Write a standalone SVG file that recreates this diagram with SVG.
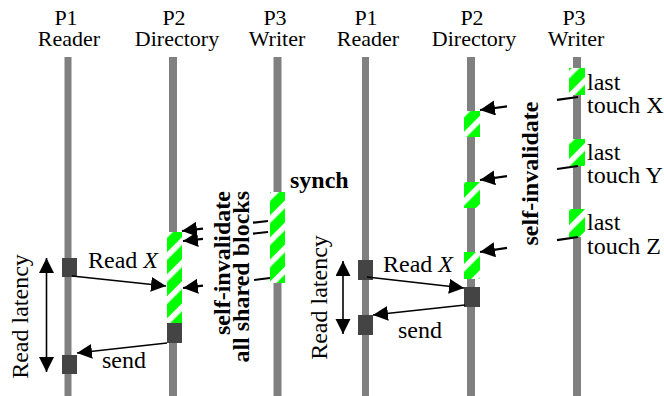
<svg xmlns="http://www.w3.org/2000/svg" width="664" height="396" viewBox="0 0 664 396">
<style>
.t{font-family:"Liberation Serif","Times New Roman","DejaVu Serif",serif;fill:#000}
.h{font-size:22px;text-anchor:middle}
.l{font-size:24px}
.b{font-size:24px;font-weight:bold}
.life{fill:#808080}
.box{fill:#444}
.hat{fill:url(#hatch)}
.c{stroke:#000;stroke-width:1.6;fill:none}
.s{stroke:#000;stroke-width:2.2;fill:none}
</style>
<defs>
<pattern id="hatch" width="15.6" height="15.6" patternUnits="userSpaceOnUse" patternTransform="rotate(45)">
<rect width="15.6" height="15.6" fill="#00ff00"/>
<rect width="5.5" height="15.6" fill="#fff"/>
</pattern>
<marker id="ah" markerUnits="userSpaceOnUse" markerWidth="16" markerHeight="16" refX="15" refY="7.5" orient="auto-start-reverse" viewBox="0 0 16 16">
<path d="M0,0 L15,7.5 L0,15 z" fill="#000"/>
</marker>
</defs>
<rect width="664" height="396" fill="#fff"/>

<g id="left-p1">
<text class="t h" x="66" y="25">P1</text>
<text class="t h" x="69" y="46">Reader</text>
<rect class="life" x="64.5" y="57" width="7" height="339"/>
<rect class="box" x="62" y="258" width="15" height="19"/>
<rect class="box" x="62" y="355" width="15" height="19"/>
</g>
<g id="left-p2">
<text class="t h" x="174" y="25">P2</text>
<text class="t h" x="177" y="46">Directory</text>
<rect class="life" x="169" y="57" width="8" height="339"/>
<rect class="hat" x="167" y="232" width="15" height="91"/>
<rect class="box" x="167" y="323" width="15" height="20"/>
</g>
<g id="left-p3">
<text class="t h" x="275" y="25">P3</text>
<text class="t h" x="277" y="46">Writer</text>
<rect class="life" x="273.5" y="57" width="8" height="339"/>
<rect class="hat" x="270" y="192" width="15" height="91"/>
</g>

<g id="right-p1">
<text class="t h" x="366" y="25">P1</text>
<text class="t h" x="368" y="46">Reader</text>
<rect class="life" x="362" y="57" width="7" height="339"/>
<rect class="box" x="358" y="260" width="15" height="20"/>
<rect class="box" x="358" y="315" width="15" height="20"/>
</g>
<g id="right-p2">
<text class="t h" x="472" y="25">P2</text>
<text class="t h" x="474" y="46">Directory</text>
<rect class="life" x="467" y="57" width="8" height="339"/>
<rect class="hat" x="464" y="111" width="16" height="26"/>
<rect class="hat" x="464" y="182" width="16" height="26"/>
<rect class="hat" x="464" y="252" width="16" height="27"/>
<rect class="box" x="464" y="287" width="16" height="20"/>
</g>
<g id="right-p3">
<text class="t h" x="574" y="25">P3</text>
<text class="t h" x="576" y="46">Writer</text>
<rect class="life" x="573" y="57" width="8" height="339"/>
<rect class="hat" x="569" y="68" width="16" height="27"/>
<rect class="hat" x="569" y="139" width="16" height="27"/>
<rect class="hat" x="569" y="209" width="16" height="28"/>
<text class="t l" x="587" y="90">last</text>
<text class="t l" x="587" y="113">touch X</text>
<text class="t l" x="587" y="160">last</text>
<text class="t l" x="587" y="183">touch Y</text>
<text class="t l" x="587" y="230">last</text>
<text class="t l" x="587" y="254">touch Z</text>
</g>

<g id="connectors">
<line class="c" x1="46.5" y1="258" x2="46.5" y2="372" marker-start="url(#ah)" marker-end="url(#ah)"/>
<line class="c" x1="72" y1="276" x2="166" y2="286" marker-end="url(#ah)"/>
<line class="c" x1="167" y1="343" x2="77" y2="353" marker-end="url(#ah)"/>
<line class="s" x1="268" y1="221" x2="253" y2="222.7"/>
<line class="s" x1="203" y1="228.6" x2="182" y2="231" marker-end="url(#ah)"/>
<line class="s" x1="268" y1="232" x2="253" y2="233.6"/>
<line class="s" x1="203" y1="238.9" x2="183" y2="241" marker-end="url(#ah)"/>
<line class="s" x1="270" y1="278" x2="254" y2="280"/>
<line class="s" x1="203" y1="285.7" x2="183" y2="288" marker-end="url(#ah)"/>

<line class="c" x1="343" y1="261" x2="343" y2="334" marker-start="url(#ah)" marker-end="url(#ah)"/>
<line class="c" x1="367" y1="277" x2="464" y2="288" marker-end="url(#ah)"/>
<line class="c" x1="465" y1="305" x2="373" y2="315" marker-end="url(#ah)"/>
<line class="s" x1="578" y1="97" x2="557" y2="99.8"/>
<line class="s" x1="507" y1="106.4" x2="480" y2="110" marker-end="url(#ah)"/>
<line class="s" x1="578" y1="166" x2="557" y2="169"/>
<line class="s" x1="507" y1="176.1" x2="480" y2="180" marker-end="url(#ah)"/>
<line class="s" x1="578" y1="237" x2="557" y2="240.2"/>
<line class="s" x1="507" y1="247.9" x2="480" y2="252" marker-end="url(#ah)"/>
</g>

<g id="labels">
<text class="t l" transform="translate(28,316.5) rotate(-90)" text-anchor="middle">Read latency</text>
<text class="t l" x="88" y="268">Read <tspan font-style="italic">X</tspan></text>
<text class="t l" x="102" y="368">send</text>
<text class="t b" x="290" y="188">synch</text>
<text class="t b" transform="translate(230,191) rotate(-90)" text-anchor="end">self-invalidate</text>
<text class="t b" transform="translate(249,191) rotate(-90)" text-anchor="end">all shared blocks</text>
<text class="t l" transform="translate(327,297.5) rotate(-90)" text-anchor="middle">Read latency</text>
<text class="t l" x="383" y="272">Read <tspan font-style="italic">X</tspan></text>
<text class="t l" x="398" y="338">send</text>
<text class="t b" transform="translate(538,173.5) rotate(-90)" text-anchor="middle">self-invalidate</text>
</g>
</svg>
